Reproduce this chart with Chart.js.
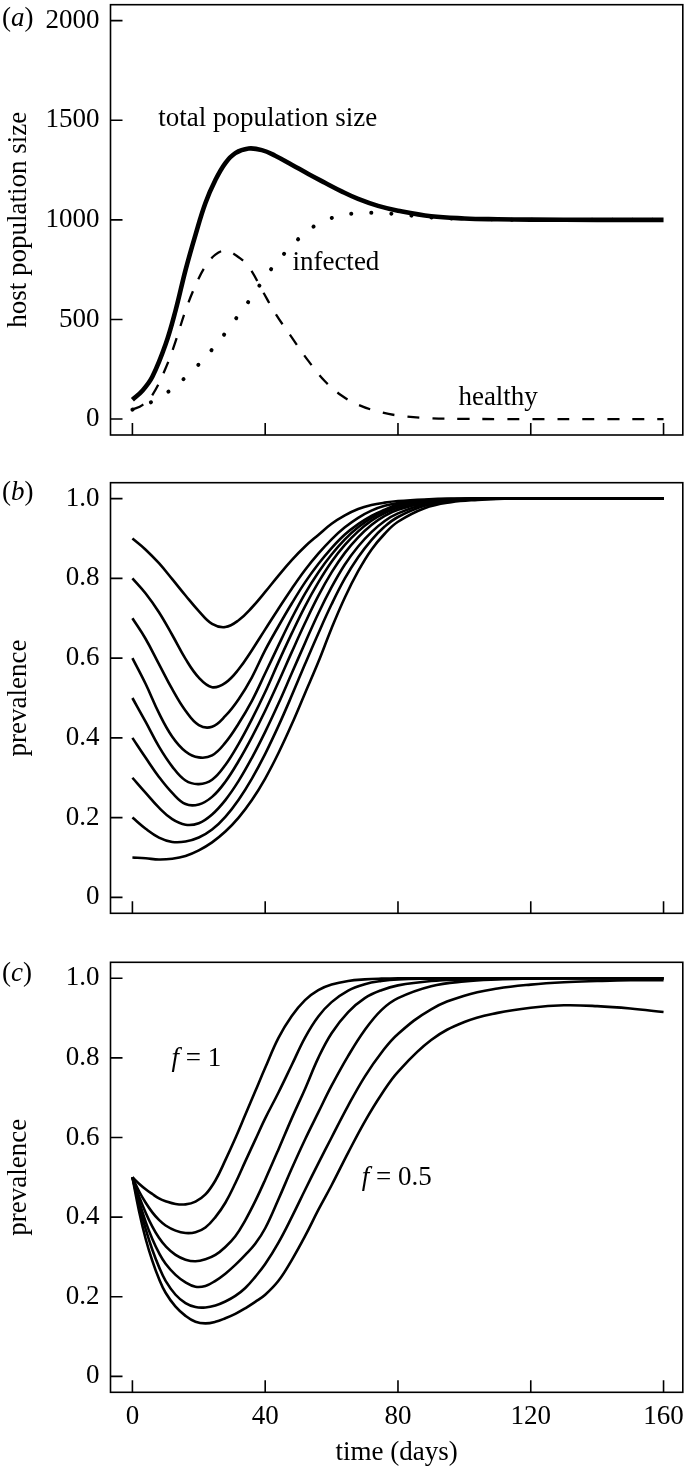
<!DOCTYPE html>
<html>
<head>
<meta charset="utf-8">
<title>host population and prevalence</title>
<script src="https://cdn.jsdelivr.net/npm/chart.js@4.4.1/dist/chart.umd.min.js"></script>
<style>
  html, body { margin: 0; padding: 0; background: #fff; }
  #wrap { position: relative; width: 685px; height: 1470px; }
  canvas { position: absolute; left: 0; }
</style>
</head>
<body>
<div id="wrap">
  <canvas id="chart-a" width="685" height="460" style="top:0"></canvas>
  <canvas id="chart-b" width="685" height="480" style="top:460px"></canvas>
  <canvas id="chart-c" width="685" height="530" style="top:940px"></canvas>
</div>
<script>
// ---- data ----
const X_TICKS = [0, 40, 80, 120, 160];
const X_TICK_LABELS = ['0', '40', '80', '120', '160'];

const Y_TICKS_A = [0, 500, 1000, 1500, 2000];
const Y_TICK_LABELS_A = ['0', '500', '1000', '1500', '2000'];
const Y_TICKS_PREV = [0, 0.2, 0.4, 0.6, 0.8, 1.0];
const Y_TICK_LABELS_PREV = ['0', '0.2', '0.4', '0.6', '0.8', '1.0'];

// (a) host population size
const T_A = [0, 3, 6, 10, 13, 16, 19, 22, 25, 28, 31, 35, 39, 43, 48, 53, 58, 63, 68, 74, 80, 90, 100, 110, 120, 140, 160];
const TOTAL = [97, 142, 212, 375, 545, 748, 925, 1085, 1200, 1285, 1335, 1358, 1350, 1322, 1277, 1230, 1186, 1143, 1105, 1070, 1046, 1018, 1007, 1003, 1001, 1000, 1000];
const HEALTHY = [47, 70, 120, 255, 390, 545, 670, 768, 825, 846, 824, 765, 649, 532, 410, 292, 190, 118, 72, 38, 18, 4, 1, 0, 0, 0, 0];
const INFECTED = [47, 64, 88, 128, 165, 210, 258, 310, 370, 432, 500, 590, 688, 778, 870, 948, 996, 1022, 1034, 1035, 1028, 1012, 1005, 1002, 1000, 1000, 1000];

// (b) prevalence, initial prevalence 0.9 ... 0.1
const T_B = [0, 4, 8, 12, 16, 20, 24, 28, 32, 36, 40, 44, 48, 52, 56, 60, 64, 68, 72, 76, 80, 88, 96, 104, 112, 120, 140, 160];
const PREV_09 = [0.900, 0.872, 0.838, 0.798, 0.757, 0.718, 0.686, 0.678, 0.695, 0.727, 0.766, 0.807, 0.846, 0.880, 0.909, 0.937, 0.958, 0.974, 0.984, 0.990, 0.994, 0.998, 1, 1, 1, 1, 1, 1];
const PREV_08 = [0.800, 0.762, 0.715, 0.658, 0.598, 0.551, 0.527, 0.538, 0.572, 0.620, 0.672, 0.724, 0.774, 0.821, 0.862, 0.898, 0.928, 0.952, 0.970, 0.982, 0.989, 0.996, 0.999, 1, 1, 1, 1, 1];
const PREV_07 = [0.700, 0.648, 0.585, 0.522, 0.468, 0.432, 0.428, 0.455, 0.497, 0.552, 0.620, 0.680, 0.737, 0.790, 0.836, 0.876, 0.910, 0.936, 0.957, 0.972, 0.985, 0.995, 0.998, 1, 1, 1, 1, 1];
const PREV_06 = [0.600, 0.535, 0.462, 0.403, 0.366, 0.351, 0.356, 0.388, 0.436, 0.493, 0.562, 0.632, 0.700, 0.762, 0.815, 0.860, 0.898, 0.928, 0.952, 0.969, 0.981, 0.993, 0.998, 1, 1, 1, 1, 1];
const PREV_05 = [0.500, 0.440, 0.378, 0.328, 0.293, 0.284, 0.295, 0.332, 0.385, 0.447, 0.515, 0.590, 0.662, 0.730, 0.790, 0.842, 0.884, 0.918, 0.945, 0.964, 0.977, 0.991, 0.997, 1, 1, 1, 1, 1];
const PREV_04 = [0.400, 0.350, 0.302, 0.262, 0.234, 0.233, 0.252, 0.290, 0.342, 0.402, 0.468, 0.540, 0.615, 0.688, 0.756, 0.815, 0.864, 0.903, 0.934, 0.957, 0.972, 0.989, 0.996, 1, 1, 1, 1, 1];
const PREV_03 = [0.300, 0.262, 0.225, 0.196, 0.182, 0.186, 0.208, 0.244, 0.292, 0.350, 0.415, 0.486, 0.562, 0.638, 0.712, 0.778, 0.835, 0.880, 0.916, 0.944, 0.963, 0.986, 0.995, 0.999, 1, 1, 1, 1];
const PREV_02 = [0.200, 0.172, 0.150, 0.139, 0.140, 0.150, 0.170, 0.202, 0.245, 0.298, 0.360, 0.430, 0.506, 0.585, 0.662, 0.735, 0.800, 0.853, 0.896, 0.930, 0.954, 0.982, 0.994, 0.999, 1, 1, 1, 1];
const PREV_01 = [0.100, 0.098, 0.095, 0.097, 0.104, 0.118, 0.138, 0.165, 0.200, 0.244, 0.298, 0.362, 0.434, 0.512, 0.590, 0.675, 0.752, 0.818, 0.872, 0.912, 0.942, 0.976, 0.991, 0.997, 1, 1, 1, 1];

// (c) prevalence for f from 1 (top) down to 0.5 (bottom)
const T_C = [0, 2, 4, 6, 8, 10, 13, 16, 19, 22, 25, 28, 31, 34, 37, 40, 44, 48, 52, 56, 60, 65, 70, 75, 80, 90, 100, 110, 120, 130, 140, 150, 160];
const F_1 = [0.500, 0.484, 0.470, 0.458, 0.447, 0.440, 0.433, 0.432, 0.439, 0.457, 0.492, 0.543, 0.598, 0.657, 0.716, 0.775, 0.850, 0.905, 0.945, 0.970, 0.984, 0.993, 0.997, 0.999, 1, 1, 1, 1, 1, 1, 1, 1, 1];
const F_2 = [0.500, 0.465, 0.436, 0.412, 0.393, 0.379, 0.366, 0.360, 0.362, 0.374, 0.400, 0.436, 0.485, 0.540, 0.594, 0.648, 0.713, 0.782, 0.851, 0.904, 0.940, 0.969, 0.985, 0.993, 0.997, 0.999, 1, 1, 1, 1, 1, 1, 1];
const F_3 = [0.500, 0.452, 0.411, 0.376, 0.348, 0.327, 0.305, 0.293, 0.289, 0.294, 0.305, 0.325, 0.352, 0.392, 0.440, 0.494, 0.570, 0.648, 0.722, 0.800, 0.862, 0.915, 0.950, 0.970, 0.982, 0.993, 0.997, 0.999, 1, 1, 1, 1, 1];
const F_4 = [0.500, 0.440, 0.388, 0.345, 0.310, 0.283, 0.255, 0.236, 0.225, 0.227, 0.240, 0.258, 0.280, 0.305, 0.333, 0.372, 0.445, 0.522, 0.595, 0.663, 0.730, 0.805, 0.870, 0.920, 0.950, 0.980, 0.992, 0.997, 0.999, 1, 1, 1, 1];
const F_5 = [0.500, 0.430, 0.370, 0.318, 0.275, 0.240, 0.205, 0.184, 0.174, 0.173, 0.178, 0.188, 0.202, 0.222, 0.250, 0.282, 0.336, 0.400, 0.468, 0.535, 0.600, 0.680, 0.753, 0.813, 0.860, 0.922, 0.956, 0.974, 0.984, 0.990, 0.993, 0.995, 0.995];
const F_6 = [0.500, 0.415, 0.345, 0.290, 0.245, 0.210, 0.175, 0.152, 0.137, 0.133, 0.137, 0.146, 0.157, 0.171, 0.187, 0.205, 0.240, 0.292, 0.352, 0.418, 0.480, 0.562, 0.640, 0.708, 0.765, 0.845, 0.890, 0.913, 0.926, 0.932, 0.930, 0.924, 0.915];

// text placed inside the plots, anchored in data units
const NOTES_A = [
    { x: 7.8, y: 1470, parts: [['total population size', false]] },
    { x: 48.2, y: 749, parts: [['infected', false]] },
    { x: 98.2, y: 72, parts: [['healthy', false]] }
];
const NOTES_C = [
    { x: 11.8, y: 0.780, parts: [['f', true], [' = 1', false]] },
    { x: 69.1, y: 0.481, parts: [['f', true], [' = 0.5', false]] }
];

// ---- drawing ----
const SERIF = "'Liberation Serif', 'Times New Roman', serif";
const FONT_SIZE = 27;
const TICK_LEN = 12;

Chart.defaults.font.family = SERIF;
Chart.defaults.font.size = FONT_SIZE;
Chart.defaults.color = '#000';

const toPoints = (xs, ys) => xs.map((x, i) => ({ x, y: ys[i] }));

// box round the plot plus inward tick marks, as in the original
const framePlugin = {
    id: 'frame',
    afterDatasetsDraw(chart) {
        const { ctx, chartArea: a, scales: { x, y } } = chart;
        ctx.save();
        ctx.strokeStyle = '#000';
        ctx.lineWidth = 1.6;
        ctx.strokeRect(a.left, a.top, a.right - a.left, a.bottom - a.top);
        ctx.beginPath();
        x.ticks.forEach(t => {
            const px = x.getPixelForValue(t.value);
            ctx.moveTo(px, a.bottom);
            ctx.lineTo(px, a.bottom - TICK_LEN);
        });
        y.ticks.forEach(t => {
            const py = y.getPixelForValue(t.value);
            ctx.moveTo(a.left, py);
            ctx.lineTo(a.left + TICK_LEN, py);
        });
        ctx.stroke();
        ctx.restore();
    }
};

function drawParts(ctx, parts, x, y) {
    let cx = x;
    parts.forEach(([text, italic]) => {
        ctx.font = (italic ? 'italic ' : '') + FONT_SIZE + 'px ' + SERIF;
        ctx.fillText(text, cx, y);
        cx += ctx.measureText(text).width;
    });
}

const notesPlugin = {
    id: 'notes',
    afterDraw(chart, args, opts) {
        const { ctx, scales: { x, y } } = chart;
        ctx.save();
        ctx.fillStyle = '#000';
        ctx.textAlign = 'left';
        ctx.textBaseline = 'alphabetic';
        drawParts(ctx, [['(', false], [opts.letter, true], [')', false]], 2, opts.letterBaseline);
        (opts.items || []).forEach(n => {
            drawParts(ctx, n.parts, x.getPixelForValue(n.x), y.getPixelForValue(n.y));
        });
        ctx.restore();
    }
};

function lineSet(xs, ys, extra) {
    return Object.assign({
        data: toPoints(xs, ys),
        borderColor: '#000',
        borderWidth: 2.6,
        pointRadius: 0,
        fill: false,
        tension: 0.4
    }, extra || {});
}

function makeChart(id, cfg) {
    return new Chart(document.getElementById(id), {
        type: 'line',
        data: { datasets: cfg.datasets },
        options: {
            responsive: false,
            animation: false,
            events: [],
            layout: { padding: { top: cfg.padTop, right: 2.2, bottom: 0, left: 0 } },
            plugins: {
                legend: { display: false },
                tooltip: { enabled: false },
                notes: { letter: cfg.letter, letterBaseline: cfg.letterBaseline, items: cfg.notes }
            },
            scales: {
                x: {
                    type: 'linear',
                    min: -6.6,
                    max: 165.8,
                    afterBuildTicks: s => { s.ticks = X_TICKS.map(v => ({ value: v })); },
                    afterFit: s => {
                        s.height = cfg.xHeight;
                        s.paddingLeft = 0;
                        s.paddingRight = 0;
                    },
                    grid: { display: false, drawTicks: false },
                    border: { display: false },
                    ticks: {
                        display: cfg.showX,
                        padding: 8,
                        maxRotation: 0,
                        autoSkip: false,
                        callback: (v, i) => X_TICK_LABELS[i]
                    },
                    title: { display: cfg.showX, text: 'time (days)', padding: { top: 0, bottom: 1 } }
                },
                y: {
                    type: 'linear',
                    min: cfg.yMin,
                    max: cfg.yMax,
                    afterBuildTicks: s => { s.ticks = cfg.yTicks.map(v => ({ value: v })); },
                    afterFit: s => {
                        s.width = 110.5;
                        s.paddingTop = 0;
                        s.paddingBottom = 0;
                    },
                    grid: { display: false, drawTicks: false },
                    border: { display: false },
                    ticks: { padding: 11, callback: (v, i) => cfg.yLabels[i] },
                    title: { display: true, text: cfg.yTitle, padding: { top: 3, bottom: 0 } }
                }
            }
        },
        plugins: [framePlugin, notesPlugin]
    });
}

makeChart('chart-a', {
    letter: 'a', letterBaseline: 26, padTop: 4.7, xHeight: 25, showX: false,
    yMin: -80, yMax: 2080, yTicks: Y_TICKS_A, yLabels: Y_TICK_LABELS_A,
    yTitle: 'host population size', notes: NOTES_A,
    datasets: [
        lineSet(T_A, TOTAL, { borderWidth: 4.6 }),
        lineSet(T_A, INFECTED, { borderWidth: 4, borderDash: [0.1, 20], borderCapStyle: 'round' }),
        lineSet(T_A, HEALTHY, { borderWidth: 2.3, borderDash: [12, 13] })
    ]
});

makeChart('chart-b', {
    letter: 'b', letterBaseline: 40, padTop: 22.7, xHeight: 26.7, showX: false,
    yMin: -0.04, yMax: 1.04, yTicks: Y_TICKS_PREV, yLabels: Y_TICK_LABELS_PREV,
    yTitle: 'prevalence', notes: [],
    datasets: [PREV_09, PREV_08, PREV_07, PREV_06, PREV_05, PREV_04, PREV_03, PREV_02, PREV_01]
        .map(s => lineSet(T_B, s))
});

makeChart('chart-c', {
    letter: 'c', letterBaseline: 41, padTop: 22.3, xHeight: 77.7, showX: true,
    yMin: -0.04, yMax: 1.04, yTicks: Y_TICKS_PREV, yLabels: Y_TICK_LABELS_PREV,
    yTitle: 'prevalence', notes: NOTES_C,
    datasets: [F_1, F_2, F_3, F_4, F_5, F_6].map(s => lineSet(T_C, s))
});
</script>
</body>
</html>
